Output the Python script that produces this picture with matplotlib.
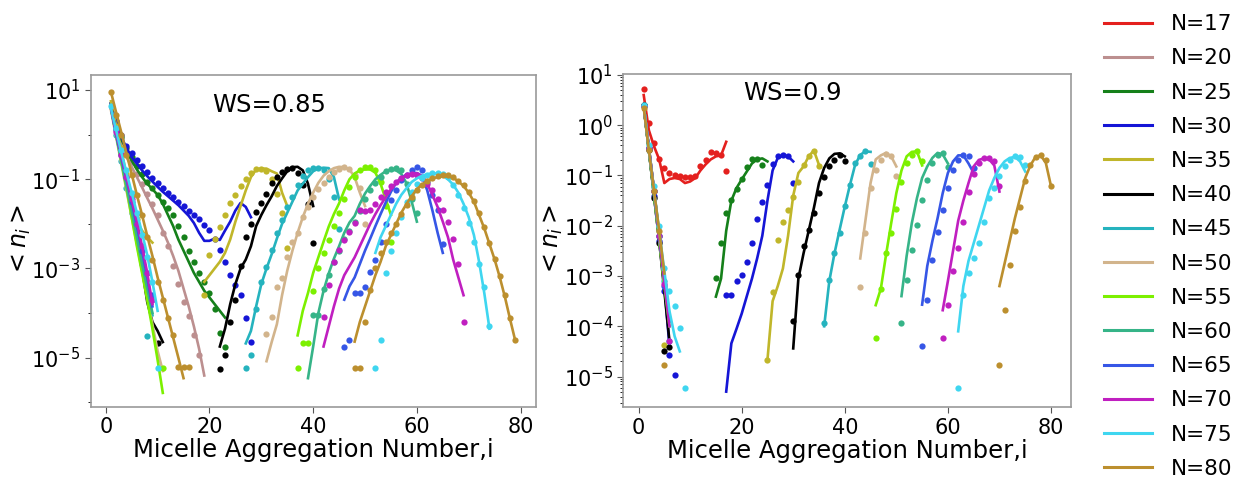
import numpy as np
import matplotlib
matplotlib.use("Agg")
import matplotlib.pyplot as plt
from matplotlib.lines import Line2D
from matplotlib.ticker import FixedLocator, LogLocator, NullFormatter

# surfactant number N of each curve and its colour
sizes = [17, 20, 25, 30, 35, 40, 45, 50, 55, 60, 65, 70, 75, 80]
colors = ['#e4201e', 'rosybrown', '#15801a', '#1515d6', '#c0b62a', 'black',
          '#25b3be', 'tan', '#7cf000', '#36b488', '#3656e6', '#c01fc0',
          '#3fd6f0', '#bc8f2e']

# values, stored as log10(<n_i>)
# each entry: (first i, [log10 values for i, i+1, ...]); None = no point
ws085_lines = {
    20: [(1, [0.7, 0.15, -0.25, -0.5, -0.72, -0.95, -1.18, -1.42, -1.65, -1.9, -2.15, -2.42,
              -2.72, -3.05, -3.45, -3.85, -4.3, -4.8, -5.4])],
    25: [(1, [0.7, 0.2, -0.1, -0.35, -0.58, -0.78, -0.95, -1.1, -1.22, -1.35, -1.55, -1.8,
              -2.05, -2.35, -2.6, -2.85, -3.1, -3.3, -3.5, -3.65, -3.8, -3.95, -4.1])],
    30: [(1, [0.7, 0.25, -0.05, -0.3, -0.5, -0.65, -0.8, -0.93, -1.05, -1.17, -1.28, -1.38,
              -1.48, -1.58, -1.7, -1.82, -1.98, -2.2, -2.38, -2.38, -2.33, -2.36, -2.15, -1.95,
              -1.7, -1.53, -1.62, -1.85])],
    35: [(1, [0.75, 0.2, -0.35, -0.9, -1.4, -1.95, -2.15, -2.3, -2.42]),
         (19, [-3.3, -3.15, -3.0, -2.85, -2.65, -2.35, -1.95, -1.6, -1.25, -0.95, -0.78, -0.76,
               -0.76, -0.82, -0.87, -1.3, -1.6])],
    40: [(1, [0.65, 0.05, -0.55, -1.15, -1.75, -2.4, -3.0, -3.75, -4.2, -4.4, -4.65]),
         (22, [-4.75, -4.35, -3.8, -3.35, -3.0, -2.8, -2.5, -2.05, -1.8, -1.58, -1.38, -1.15,
               -0.98, -0.82, -0.73, -0.72, -0.8, -1.1, -1.6])],
    45: [(1, [0.6, 0.0, -0.6, -1.15, -1.7, -2.25, -2.85, -3.45, -4.05]),
         (27, [-4.68, -4.4, -3.85, -3.35, -3.0, -2.68, -2.33, -2.0, -1.75, -1.5, -1.25, -1.1,
               -0.95, -0.82, -0.76, -0.74, -0.75, -0.95, -1.45])],
    50: [(1, [0.55, -0.05, -0.65, -1.25, -1.85, -2.45, -3.05, -3.65, -4.25, -4.85, -5.3]),
         (31, [-5.08, -4.65, -4.25, -3.6, -3.05, -2.6, -2.2, -1.85, -1.55, -1.3, -1.08, -0.92,
               -0.82, -0.75, -0.72, -0.73, -0.78, -0.95, -1.3, -1.6])],
    55: [(1, [0.6, 0.0, -0.6, -1.2, -1.85, -2.5, -3.1, -3.7, -4.35, -5.05, -5.79]),
         (37, [-4.5, -3.95, -3.55, -3.1, -2.75, -2.4, -2.06, -1.78, -1.54, -1.25, -1.0, -0.87,
               -0.8, -0.78, -0.78, -0.85, -1.1, -1.45, -1.8])],
    60: [(1, [0.6, 0.0, -0.58, -1.15, -1.72, -2.3, -2.9, -3.45, -4.0]),
         (39, [-5.46, -4.75, -4.0, -3.5, -3.11, -2.78, -2.5, -2.2, -1.97, -1.82, -1.55, -1.32,
               -1.15, -1.0, -0.9, -0.82, -0.78, -0.8, -0.88, -1.09, -1.5, -1.95])],
    65: [(1, [0.62, 0.0, -0.5, -1.0, -1.5, -2.05, -2.6, -3.2, -3.85]),
         (46, [-3.7, -3.4, -3.2, -2.9, -2.6, -2.33, -2.05, -1.78, -1.52, -1.28, -1.08, -0.96,
               -0.9, -0.87, -0.86, -0.92, -1.25, -1.7, -2.2, -2.65])],
    70: [(1, [0.6, 0.05, -0.45, -0.95, -1.45, -1.95, -2.5, -3.1, -3.8]),
         (42, [-4.75, -4.3, -3.85, -3.45, -3.15, -2.95, -2.75, -2.5, -2.25, -2.0, -1.78, -1.58,
               -1.4, -1.22, -1.08, -0.98, -0.9, -0.87, -0.87, -0.93, -1.1, -1.35, -1.62, -1.95,
               -2.3, -2.8, -3.2, -3.6])],
    75: [(1, [0.6, 0.1, -0.4, -0.85, -1.3, -1.75, -2.2, -2.7, -3.3, -3.95]),
         (52, [-2.65, -2.3, -2.05, -1.8, -1.55, -1.35, -1.2, -1.06, -0.98, -0.92, -0.89, -0.87,
               -0.87, -0.92, -1.0, -1.12, -1.3, -1.55, -1.85, -2.25, -2.85, -3.55, -4.35])],
    80: [(1, [0.96, 0.5, 0.05, -0.42, -0.88, -1.35, -1.8, -2.27, -2.72, -3.2, -3.65, -4.1,
              -4.55, -5.0, -5.46]),
         (48, [-4.64, -4.2, -3.85, -3.5, -3.15, -2.85, -2.5, -2.25, -2.0, -1.75, -1.55, -1.38,
               -1.22, -1.12, -1.04, -0.98, -0.95, -0.93, -0.93, -0.96, -1.05, -1.15, -1.3, -1.5,
               -1.8, -2.1, -2.45, -2.8, -3.2, -3.65, -4.15, -4.63])],
}

ws085_dots = {
    20: [(2, [0.3, -0.1, -0.38, -0.62, -0.88, -1.1, -1.32, -1.55, -1.8, -2.2, -2.5, -2.95,
              -3.35, -3.75, -4.07, -4.5, -4.94])],
    25: [(2, [0.25, -0.05, -0.3, -0.5, -0.7, -0.88, -1.05, -1.2, -1.35, -1.5, -1.65, -1.8,
              -2.05, -2.3, -2.6, -2.85, -3.1, -3.3, -3.55, -3.9, -4.45, -4.75])],
    30: [(2, [0.3, 0.0, -0.25, -0.42, -0.57, -0.7, -0.83, -0.96, -1.09, -1.2, -1.3, -1.4, -1.5,
              -1.6, -1.7, -1.8, -1.9, -2.02, -2.14, -2.35, -2.59, -2.85, -3.15, -3.37, -3.6,
              -4.11, -4.65])],
    35: [(2, [0.2, -0.3, -0.85, -1.35, -1.9]),
         (19, [-3.6, -2.7, -2.35, -2.06, -1.8, -1.54, -1.35, -1.15, -1.0, -0.87, -0.78, -0.76,
               -0.82, -1.0, -1.32, -1.76, -2.55])],
    40: [(10, [-4.66]),
         (22, [-5.25, -4.95, -4.2, -3.7, -2.95, -2.3, -2.0, -1.73, -1.54, -1.32, -1.09, -0.95,
               -0.83, -0.76, -0.74, -0.85, -1.13, -1.55, -2.42])],
    45: [(2, [0.0, -0.6, -1.2, -1.75, -2.3, -2.9, -4.52]),
         (27, [-5.23, -4.95, -3.9, -3.3, -2.96, -2.59, -2.21, -1.91, -1.62, -1.39, -1.13, -0.92,
               -0.8, -0.74, -0.74, -0.8, -1.0, -1.4, -2.12])],
    50: [(31, [-4.46, -4.08, -3.41, -3.22, -2.74, -2.4, -2.21, -1.84, -1.62, -1.39, -1.22,
               -1.09, -0.94, -0.83, -0.76, -0.73, -0.76, -0.9, -1.2, -2.0])],
    55: [(11, [-5.23]),
         (37, [-5.23, -4.66, -4.66, -3.5, -3.0, -2.66, -2.36, -2.05, -1.76, -1.45, -1.17, -0.95,
               -0.8, -0.73, -0.72, -0.8, -1.05, -1.6, -2.4])],
    60: [(40, [-4.04, -4.04, -3.45, -3.15, -2.85, -2.6, -2.35, -2.15, -1.95, -1.7, -1.45,
               -1.25, -1.09, -0.95, -0.82, -0.76, -0.74, -0.8, -1.1, -1.45, -1.75])],
    65: [(2, [0.1, -0.45, -0.95, -1.5, -2.0, -2.6, -3.1, -3.6]),
         (46, [-4.75, -4.61, -3.56, -3.56, -3.41, -3.07, -2.8, -2.4, -2.0, -1.47, -1.24, -1.02,
               -0.9, -0.8, -0.73, -0.79, -1.06, -1.35, -1.69, -2.44])],
    70: [(2, [0.05, -0.45, -0.95, -1.45, -2.0, -2.5, -3.1, -3.7]),
         (42, [-4.08, -3.37, -2.85, -2.59, -2.36, -2.18, -1.99, -1.69, -1.71, -1.68, -1.55, -1.4,
               -1.28, -1.15, -1.05, -0.97, -0.91, -0.88, -0.9, -0.98, -1.1, -1.25, -1.45, -1.69,
               -1.95, -2.35, -2.9, -4.19])],
    75: [(1, [0.64, 0.15, -0.35, -0.8, -1.3, -1.75, -2.25, -2.75, -3.3, -5.23]),
         (52, [-5.24, -4.61, -3.11, -2.6, -2.2, -1.84, -1.5, -1.28, -1.1, -0.98, -0.9, -0.86,
               -0.86, -0.88, -0.95, -1.12, -1.35, -1.65, -1.99, -2.4, -2.89, -3.41, -4.3])],
    80: [(1, [0.96, 0.45, 0.0, -0.45, -0.9, -1.35, -1.8, -2.3, -2.8, -3.3, -3.7, -4.1, -4.5,
              -5.2, -5.2, -5.2]),
         (48, [-5.23, -5.23, -4.19, -3.48, -3.0, -2.66, -2.4, -2.2, -2.0, -1.78, -1.57, -1.4,
               -1.25, -1.12, -1.03, -0.97, -0.93, -0.91, -0.91, -0.95, -1.03, -1.13, -1.28,
               -1.48, -1.76, -2.08, -2.42, -2.78, -3.16, -3.6, -4.1, -4.6])],
}

ws09_lines = {
    17: [(1, [0.6, -0.1, -0.42, -0.68, -1.15, -1.07, -1.05, -1.07, -1.15, -1.12, -1.05, -0.9,
              -0.78, -0.68, -0.62, -0.6, -0.33])],
    20: [(1, [0.38, -0.45, -1.3, -2.15, -3.0, -3.8])],
    25: [(1, [0.38, -0.5, -1.35, -2.2, -3.05, -3.9]),
         (15, [-3.41, -3.05, -2.1, -1.5, -1.25, -1.08, -0.92, -0.76, -0.68, -0.66, -0.72])],
    30: [(1, [0.38, -0.5, -1.4, -2.3, -3.2, -4.4]),
         (17, [-5.3, -4.34, -4.05, -3.75, -3.4, -3.05, -2.65, -2.2, -1.5, -0.9, -0.65, -0.6,
               -0.62, -0.72])],
    35: [(1, [0.38, -0.45, -1.3, -2.15, -3.0]),
         (25, [-4.67, -3.5, -3.2, -2.85, -2.2, -1.4, -0.95, -0.82, -0.62, -0.5, -0.79])],
    40: [(1, [0.38, -0.5, -1.4, -2.3, -3.3, -4.3]),
         (30, [-4.44, -3.05, -2.55, -2.1, -1.65, -1.15, -0.85, -0.66, -0.57, -0.56, -0.62])],
    45: [(1, [0.38, -0.45, -1.3, -2.2, -3.1, -3.9]),
         (36, [-4.0, -3.1, -2.55, -2.08, -1.62, -1.19, -0.79, -0.59, -0.52, -0.53])],
    50: [(1, [0.38, -0.45, -1.35, -2.25, -3.15]),
         (43, [-2.65, -1.9, -1.15, -0.68, -0.6, -0.55, -0.62, -0.82])],
    55: [(1, [0.38, -0.5, -1.4, -2.3, -3.2, -4.0]),
         (46, [-3.58, -3.25, -2.58, -1.95, -1.35, -0.9, -0.62, -0.53, -0.52, -0.8])],
    60: [(1, [0.38, -0.45, -1.35, -2.25, -3.1, -3.85]),
         (51, [-3.4, -2.6, -1.95, -1.45, -1.05, -0.82, -0.65, -0.55, -0.58, -0.76])],
    65: [(1, [0.38, -0.45, -1.3, -2.2, -3.05, -3.9]),
         (55, [-3.57, -2.8, -2.3, -1.85, -1.35, -0.95, -0.72, -0.6, -0.6, -0.76, -0.95])],
    70: [(1, [0.38, -0.45, -1.3, -2.2, -3.1, -4.0]),
         (59, [-3.68, -3.1, -2.5, -1.9, -1.5, -1.15, -0.82, -0.69, -0.66, -0.68, -0.8, -1.32])],
    75: [(1, [0.4, -0.5, -1.3, -2.1, -2.9, -3.7, -4.2, -4.5]),
         (62, [-4.1, -3.2, -2.7, -2.35, -2.0, -1.65, -1.3, -1.05, -0.85, -0.72, -0.65, -0.63,
               -0.72, -0.92])],
    80: [(1, [0.35, -0.5, -1.3, -2.1, -2.95]),
         (70, [-3.2, -2.75, -2.3, -1.85, -1.45, -1.05, -0.8, -0.63, -0.6, -0.75, -1.21])],
}

ws09_dots = {
    17: [(1, [0.72, 0.04, -0.35, -0.68, -0.86, -0.95, -0.99, -1.02, -1.04, -1.04, -1.01,
              -0.82, -0.69, -0.53, -0.55, -0.6, -0.91])],
    25: [(15, [-3.04, -2.35, -1.74, -1.49, -1.27, -1.07, -0.84, -0.67, -0.68, -0.79])],
    30: [(1, [0.4, -0.45, -1.4, -2.3, -3.3, -4.57, -4.97]),
         (17, [-3.37, -3.37, -3.09, -2.98, -2.72, -2.35, -1.87, -1.52, -1.19, -0.78, -0.62, -0.6,
               -0.62, -1.14])],
    35: [(1, [0.4, -0.45, -1.3, -2.2, -4.37]),
         (25, [-4.67, -3.31, -2.28, -1.92, -1.68, -1.42, -1.12, -0.8, -0.62, -0.52, -0.81])],
    40: [(1, [0.4, -0.5, -1.45, -2.35, -4.5, -4.42]),
         (30, [-3.9, -2.98, -2.41, -2.08, -1.75, -1.34, -1.03, -0.82, -0.7, -0.59, -0.72])],
    45: [(1, [0.38, -0.45, -1.3, -2.2, -3.1, -4.3]),
         (36, [-3.94, -3.08, -2.55, -2.15, -1.6, -1.19, -0.76, -0.61, -0.52, -0.78])],
    50: [(43, [-3.22, -2.15, -1.25, -0.89, -0.69, -0.58, -0.62, -1.02])],
    55: [(46, [-4.24, -3.25, -2.54, -2.15, -1.67, -1.12, -0.76, -0.6, -0.52, -0.72])],
    60: [(51, [-3.94, -3.08, -2.48, -1.98, -1.49, -1.09, -0.76, -0.6, -0.56, -0.84])],
    65: [(1, [0.38, -0.45, -1.3, -2.2, -3.2]),
         (55, [-4.39, -3.48, -2.69, -2.13, -1.68, -1.25, -0.89, -0.69, -0.59, -0.62, -0.85])],
    70: [(1, [0.38, -0.45, -1.3, -2.2, -3.15, -4.3]),
         (59, [-4.24, -3.57, -2.91, -2.45, -1.92, -1.32, -0.98, -0.75, -0.66, -0.66, -0.72,
               -1.2])],
    75: [(1, [0.4, -0.4, -1.2, -2.0, -2.85, -3.3, -3.6, -4.04, -5.23]),
         (62, [-5.23, -3.37, -2.94, -2.64, -2.35, -1.92, -1.45, -1.25, -1.02, -0.82, -0.69,
               -0.62, -0.64, -0.8])],
    80: [(1, [0.35, -0.5, -1.3, -2.1, -4.77]),
         (70, [-4.77, -3.68, -2.79, -2.1, -1.62, -1.1, -0.8, -0.64, -0.6, -0.7, -1.21])],
}


def unpack(segments):
    xs, ys = [], []
    for x0, logs in segments:
        for k, v in enumerate(logs):
            xs.append(x0 + k)
            ys.append(np.nan if v is None else 10.0 ** v)
        xs.append(np.nan)
        ys.append(np.nan)
    return np.array(xs, dtype=float), np.array(ys, dtype=float)


fig = plt.figure(figsize=(12.41, 4.93), dpi=100)
ax1 = fig.add_axes([0.0731, 0.175, 0.3585, 0.673])
ax2 = fig.add_axes([0.5023, 0.174, 0.361, 0.676])

panels = [(ax1, ws085_lines, ws085_dots, 'WS=0.85', (0.40, 0.91)),
          (ax2, ws09_lines, ws09_dots, 'WS=0.9', (0.378, 0.943))]

for ax, lines, dots, txt, pos in panels:
    for n, c in zip(sizes, colors):
        if n in lines:
            x, y = unpack(lines[n])
            ax.plot(x, y, '-', color=c, lw=1.9)
        if n in dots:
            x, y = unpack(dots[n])
            ax.plot(x, y, 'o', color=c, ms=4.5, mec='none')
    ax.set_yscale('log')
    ax.set_xticks([0, 20, 40, 60, 80])
    ax.tick_params(labelsize=15, color='#555555', length=4)
    for s in ax.spines.values():
        s.set_color('#9a9a9a')
        s.set_linewidth(1.2)
    ax.set_xlabel('Micelle Aggregation Number,i', fontsize=17.5)
    ax.set_ylabel(r'$<n_i>$', fontsize=17)
    ax.xaxis.set_label_coords(0.5, -0.095)
    ax.text(pos[0], pos[1], txt, transform=ax.transAxes, fontsize=17.5,
            ha='center', va='center')

ax1.set_xlim(-2.9, 82.9)
ax1.set_ylim(10 ** -6.1, 10 ** 1.34)
ax1.yaxis.set_major_locator(FixedLocator([1e1, 1e-1, 1e-3, 1e-5]))
ax1.yaxis.set_minor_locator(FixedLocator([1e0, 1e-2, 1e-4, 1e-6]))
ax1.yaxis.set_minor_formatter(NullFormatter())
ax1.yaxis.set_label_coords(-0.13, 0.5)

ax2.set_xlim(-2.95, 83.95)
ax2.set_ylim(10 ** -5.61, 10 ** 1.02)
ax2.yaxis.set_major_locator(LogLocator(base=10, numticks=20))
ax2.yaxis.set_minor_locator(LogLocator(base=10, subs=np.arange(2, 10), numticks=20))
ax2.yaxis.set_minor_formatter(NullFormatter())
ax2.yaxis.set_label_coords(-0.13, 0.5)

handles = [Line2D([], [], color=c, lw=2.2) for c in colors]
labels = ['N=%d' % n for n in sizes]
fig.legend(handles, labels, loc='center left', bbox_to_anchor=(0.874, 0.5),
           frameon=False, fontsize=15.5, handlelength=2.25, handletextpad=0.85,
           labelspacing=0.66, borderpad=0.4)

fig.savefig('out.png', dpi=100)
